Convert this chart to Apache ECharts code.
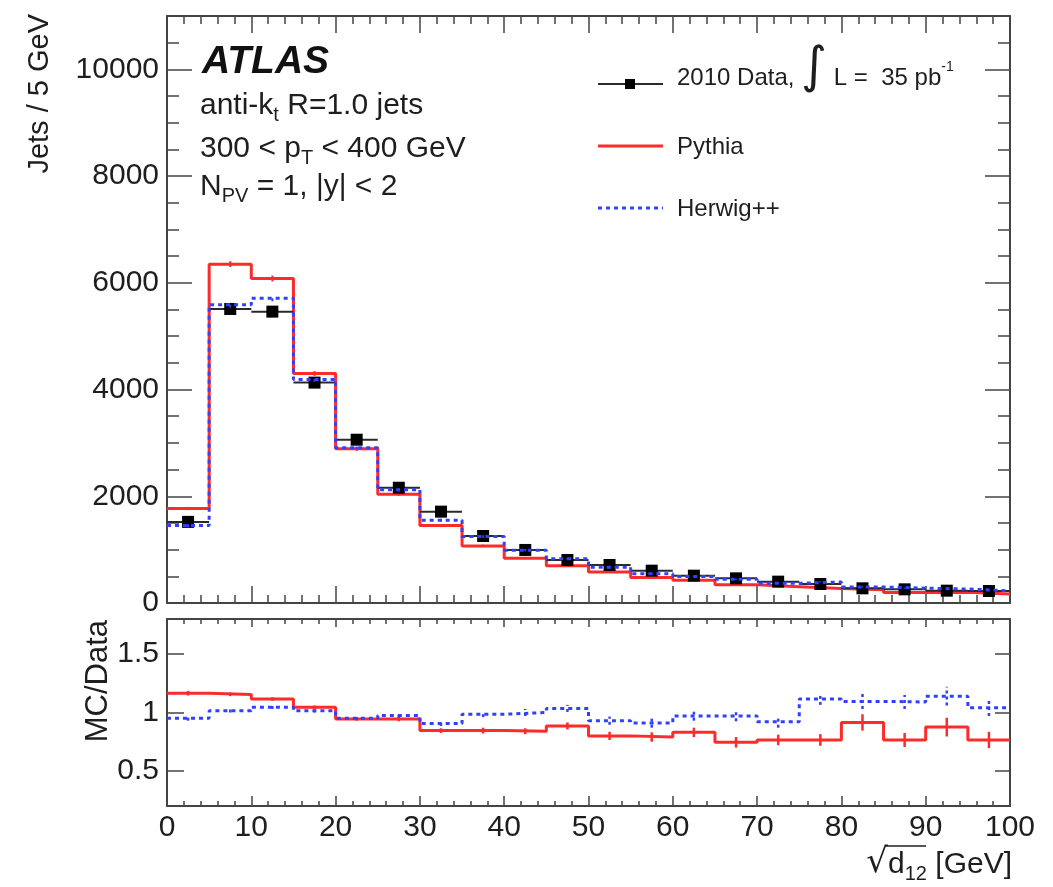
<!DOCTYPE html>
<html>
<head>
<meta charset="utf-8">
<script src="https://cdn.jsdelivr.net/npm/echarts@6/dist/echarts.min.js"></script>
<style>
  html, body { margin: 0; padding: 0; background: #ffffff; }
  #chart { width: 1053px; height: 887px; }
</style>
</head>
<body>
<div id="chart"></div>
<script>
// Bin edges of sqrt(d12) in GeV (5 GeV bins)
const binEdges = [0, 5, 10, 15, 20, 25, 30, 35, 40, 45, 50, 55, 60, 65, 70, 75, 80, 85, 90, 95, 100];

// Jets per bin
const dataCounts   = [1520, 5510, 5460, 4130, 3060, 2160, 1712, 1256, 994, 806, 712, 606, 512, 462, 400, 356, 275, 256, 231, 225];
const dataCountErr = [39, 74, 74, 64, 55, 46, 41, 35, 32, 28, 27, 25, 23, 21, 20, 19, 17, 16, 15, 15];
const pythiaCounts = [1770, 6350, 6080, 4300, 2890, 2040, 1450, 1070, 840, 700, 580, 480, 425, 340, 305, 270, 250, 195, 200, 170];
const pythiaCountErr = [30, 55, 55, 45, 38, 32, 27, 24, 21, 19, 17, 15, 14, 13, 12, 12, 11, 10, 10, 10];
const herwigCounts = [1450, 5590, 5710, 4190, 2910, 2120, 1550, 1245, 990, 830, 670, 550, 495, 445, 370, 395, 300, 278, 262, 228];
const herwigCountErr = [30, 55, 55, 45, 38, 32, 27, 24, 21, 19, 17, 15, 14, 13, 12, 12, 11, 10, 10, 10];

// MC / Data ratios
const pythiaRatio    = [1.165, 1.155, 1.115, 1.045, 0.945, 0.945, 0.845, 0.845, 0.84, 0.885, 0.80, 0.79, 0.83, 0.745, 0.765, 0.765, 0.915, 0.765, 0.875, 0.765];
const pythiaRatioErr = [0.02, 0.015, 0.015, 0.015, 0.015, 0.02, 0.02, 0.025, 0.025, 0.03, 0.035, 0.04, 0.04, 0.045, 0.045, 0.05, 0.07, 0.06, 0.08, 0.07];
const herwigRatio    = [0.95, 1.015, 1.045, 1.015, 0.95, 0.975, 0.905, 0.985, 1.0, 1.035, 0.93, 0.91, 0.97, 0.97, 0.92, 1.115, 1.095, 1.09, 1.14, 1.04];
const herwigRatioErr = [0.02, 0.015, 0.015, 0.015, 0.015, 0.02, 0.02, 0.025, 0.03, 0.03, 0.035, 0.04, 0.04, 0.045, 0.05, 0.05, 0.065, 0.06, 0.08, 0.07];

// Axis ticks
const xTicks = [0, 10, 20, 30, 40, 50, 60, 70, 80, 90, 100];
const yTicks = [0, 2000, 4000, 6000, 8000, 10000];
const yMinorTicks = [500, 1000, 1500, 2500, 3000, 3500, 4500, 5000, 5500, 6500, 7000, 7500, 8500, 9000, 9500, 10500];
const ratioTicks = [0.5, 1, 1.5];

const FONT = '"Liberation Sans", Arial, Helvetica, sans-serif';
const INK = '#1e1e1e';
const FRAME = '#444444';
const RED = '#ff2b2b';
const BLUE = '#3040ff';

// histogram outline: one point per left edge plus the final right edge
function stepPoints(values) {
  const pts = values.map((v, i) => [binEdges[i], v]);
  pts.push([binEdges[binEdges.length - 1], values[values.length - 1]]);
  return pts;
}
// [centre, value, error, lowEdge, highEdge]
function binRows(values, errs) {
  return values.map((v, i) => [(binEdges[i] + binEdges[i + 1]) / 2, v, errs[i], binEdges[i], binEdges[i + 1]]);
}

function errorBarRenderer(color, dash, width) {
  return function (params, api) {
    const x = api.value(0), y = api.value(1), e = api.value(2);
    const lo = api.coord([x, y - e]);
    const hi = api.coord([x, y + e]);
    return {
      type: 'line',
      shape: { x1: lo[0], y1: lo[1], x2: hi[0], y2: hi[1] },
      style: { stroke: color, lineWidth: width, lineDash: dash }
    };
  };
}

function dataRenderer(params, api) {
  const x = api.value(0), y = api.value(1), e = api.value(2);
  const l = api.coord([api.value(3), y]);
  const r = api.coord([api.value(4), y]);
  const lo = api.coord([x, y - e]);
  const hi = api.coord([x, y + e]);
  const c = api.coord([x, y]);
  const s = 12;
  return {
    type: 'group',
    children: [
      { type: 'line', shape: { x1: l[0], y1: l[1], x2: r[0], y2: r[1] }, style: { stroke: '#2a2a2a', lineWidth: 2 } },
      { type: 'line', shape: { x1: lo[0], y1: lo[1], x2: hi[0], y2: hi[1] }, style: { stroke: '#2a2a2a', lineWidth: 2 } },
      { type: 'rect', shape: { x: c[0] - s / 2, y: c[1] - s / 2, width: s, height: s }, style: { fill: '#000000' } }
    ]
  };
}

function xAxisDef(gridIndex, position, showLabels, majorLen, minorLen) {
  return {
    type: 'value', gridIndex: gridIndex, position: position,
    min: 0, max: 100, interval: 10,
    axisLine: { show: true, onZero: false, lineStyle: { color: FRAME, width: 2 } },
    axisTick: { show: true, inside: true, length: majorLen, lineStyle: { color: FRAME, width: 1.5 } },
    minorTick: { show: true, splitNumber: 5, length: minorLen, lineStyle: { color: FRAME, width: 1.5 } },
    axisLabel: { show: showLabels, customValues: xTicks, fontFamily: FONT, fontSize: 30, color: INK, margin: 7 },
    splitLine: { show: false }, minorSplitLine: { show: false }
  };
}

function yAxisDef(gridIndex, position, min, max, tickValues, labelValues, tickLen, showLine) {
  return {
    type: 'value', gridIndex: gridIndex, position: position, min: min, max: max,
    axisLine: { show: showLine, onZero: false, lineStyle: { color: FRAME, width: 2 } },
    axisTick: { show: true, inside: true, length: tickLen, customValues: tickValues, lineStyle: { color: FRAME, width: 1.5 } },
    axisLabel: labelValues ? {
      show: true, customValues: labelValues, fontFamily: FONT, fontSize: 30, color: INK, margin: 8,
      formatter: function (v) { return String(v); }
    } : { show: false },
    splitLine: { show: false }
  };
}

const chart = echarts.init(document.getElementById('chart'), null, { renderer: 'canvas' });

const option = {
  animation: false,
  backgroundColor: '#ffffff',
  grid: [
    { left: 167, top: 16, width: 843, height: 587 },
    { left: 167, top: 619, width: 843, height: 187 }
  ],
  xAxis: [
    xAxisDef(0, 'bottom', false, 17, 8),
    xAxisDef(0, 'top', false, 17, 8),
    xAxisDef(1, 'bottom', true, 10, 5),
    xAxisDef(1, 'top', false, 8, 5)
  ],
  yAxis: [
    yAxisDef(0, 'left', 0, 11000, yTicks, yTicks, 25, true),
    yAxisDef(0, 'left', 0, 11000, yMinorTicks, null, 12, false),
    yAxisDef(0, 'right', 0, 11000, yTicks, null, 25, true),
    yAxisDef(0, 'right', 0, 11000, yMinorTicks, null, 12, false),
    yAxisDef(1, 'left', 0.2, 1.8, ratioTicks, ratioTicks, 17, true),
    yAxisDef(1, 'right', 0.2, 1.8, ratioTicks, null, 15, true)
  ],
  series: [
    {
      name: 'Pythia', type: 'line', step: 'end', xAxisIndex: 0, yAxisIndex: 0,
      data: stepPoints(pythiaCounts), showSymbol: false, symbol: 'none', z: 2,
      lineStyle: { color: RED, width: 3 }
    },
    {
      type: 'custom', xAxisIndex: 0, yAxisIndex: 0, z: 2,
      data: binRows(pythiaCounts, pythiaCountErr), renderItem: errorBarRenderer(RED, null, 2)
    },
    {
      name: 'Data', type: 'custom', xAxisIndex: 0, yAxisIndex: 0, z: 3,
      data: binRows(dataCounts, dataCountErr), renderItem: dataRenderer
    },
    {
      name: 'Herwig++', type: 'line', step: 'end', xAxisIndex: 0, yAxisIndex: 0,
      data: stepPoints(herwigCounts), showSymbol: false, symbol: 'none', z: 4,
      lineStyle: { color: BLUE, width: 3, type: [4, 4] }
    },
    {
      type: 'custom', xAxisIndex: 0, yAxisIndex: 0, z: 4,
      data: binRows(herwigCounts, herwigCountErr), renderItem: errorBarRenderer(BLUE, [3, 3], 2)
    },
    {
      type: 'line', step: 'end', xAxisIndex: 2, yAxisIndex: 4,
      data: stepPoints(pythiaRatio), showSymbol: false, symbol: 'none', z: 2,
      lineStyle: { color: RED, width: 3 }
    },
    {
      type: 'custom', xAxisIndex: 2, yAxisIndex: 4, z: 2,
      data: binRows(pythiaRatio, pythiaRatioErr), renderItem: errorBarRenderer(RED, null, 2.5)
    },
    {
      type: 'line', step: 'end', xAxisIndex: 2, yAxisIndex: 4,
      data: stepPoints(herwigRatio), showSymbol: false, symbol: 'none', z: 4,
      lineStyle: { color: BLUE, width: 3, type: [4, 4] }
    },
    {
      type: 'custom', xAxisIndex: 2, yAxisIndex: 4, z: 4,
      data: binRows(herwigRatio, herwigRatioErr), renderItem: errorBarRenderer(BLUE, [3, 3], 2.5)
    }
  ],
  graphic: [
    // experiment tag and selection
    { type: 'text', x: 202, y: 62, style: { text: 'ATLAS', font: 'italic bold 39px ' + FONT, fill: '#111111', verticalAlign: 'middle' } },
    { type: 'text', x: 200, y: 91, style: {
        text: '{n|anti-k}{s|t}{n| R=1.0 jets}', verticalAlign: 'top',
        rich: { n: { fontSize: 30, fontFamily: FONT, fill: INK, verticalAlign: 'top' },
                s: { fontSize: 20, fontFamily: FONT, fill: INK, verticalAlign: 'top', padding: [14, 0, 0, 0] } } } },
    { type: 'text', x: 200, y: 134, style: {
        text: '{n|300 < p}{s|T}{n| < 400 GeV}', verticalAlign: 'top',
        rich: { n: { fontSize: 30, fontFamily: FONT, fill: INK, verticalAlign: 'top' },
                s: { fontSize: 20, fontFamily: FONT, fill: INK, verticalAlign: 'top', padding: [14, 0, 0, 0] } } } },
    { type: 'text', x: 200, y: 172, style: {
        text: '{n|N}{s|PV}{n| = 1, |y| < 2}', verticalAlign: 'top',
        rich: { n: { fontSize: 30, fontFamily: FONT, fill: INK, verticalAlign: 'top' },
                s: { fontSize: 20, fontFamily: FONT, fill: INK, verticalAlign: 'top', padding: [14, 0, 0, 0] } } } },

    // legend
    { type: 'line', shape: { x1: 598, y1: 84, x2: 663, y2: 84 }, style: { stroke: '#2a2a2a', lineWidth: 2 } },
    { type: 'rect', shape: { x: 625, y: 79, width: 10, height: 10 }, style: { fill: '#000000' } },
    { type: 'text', x: 677, y: 40, style: {
        text: '{n|2010 Data, }{i|∫}{n| L =  35 pb}{u|-1}', verticalAlign: 'top',
        rich: { n: { fontSize: 24, fontFamily: FONT, fill: INK, verticalAlign: 'top', padding: [26, 0, 0, 0] },
                i: { fontSize: 50, fontFamily: '"DejaVu Sans", ' + FONT, fill: INK, verticalAlign: 'top', padding: [4, 0, 0, 0] },
                u: { fontSize: 14, fontFamily: FONT, fill: INK, verticalAlign: 'top', padding: [20, 0, 0, 0] } } } },
    { type: 'line', shape: { x1: 598, y1: 146, x2: 663, y2: 146 }, style: { stroke: RED, lineWidth: 3 } },
    { type: 'text', x: 677, y: 147, style: { text: 'Pythia', font: '24px ' + FONT, fill: INK, verticalAlign: 'middle' } },
    { type: 'line', shape: { x1: 598, y1: 208, x2: 663, y2: 208 }, style: { stroke: BLUE, lineWidth: 3, lineDash: [4, 4] } },
    { type: 'text', x: 677, y: 209, style: { text: 'Herwig++', font: '24px ' + FONT, fill: INK, verticalAlign: 'middle' } },

    // axis titles
    { type: 'text', x: 40, y: 14, rotation: Math.PI / 2, style: { text: 'Jets / 5 GeV', font: '29px ' + FONT, fill: INK, align: 'right', verticalAlign: 'middle' } },
    { type: 'text', x: 98, y: 620, rotation: Math.PI / 2, style: { text: 'MC/Data', font: '31px ' + FONT, fill: INK, align: 'right', verticalAlign: 'middle' } },
    { type: 'text', x: 1012, y: 850, style: {
        text: '{r|√}{n|d}{s|12}{n| [GeV]}', align: 'right', verticalAlign: 'top',
        rich: { r: { fontSize: 34, fontFamily: '"DejaVu Sans", ' + FONT, fill: INK, verticalAlign: 'top', padding: [-4, 0, 0, 0] },
                n: { fontSize: 30, fontFamily: FONT, fill: INK, verticalAlign: 'top' },
                s: { fontSize: 20, fontFamily: FONT, fill: INK, verticalAlign: 'top', padding: [14, 0, 0, 0] } } } },
    // bar of the radical over "d12"
    { type: 'line', shape: { x1: 885, y1: 846, x2: 926, y2: 846 }, style: { stroke: INK, lineWidth: 1.5 } }
  ]
};

chart.setOption(option);
</script>
</body>
</html>
